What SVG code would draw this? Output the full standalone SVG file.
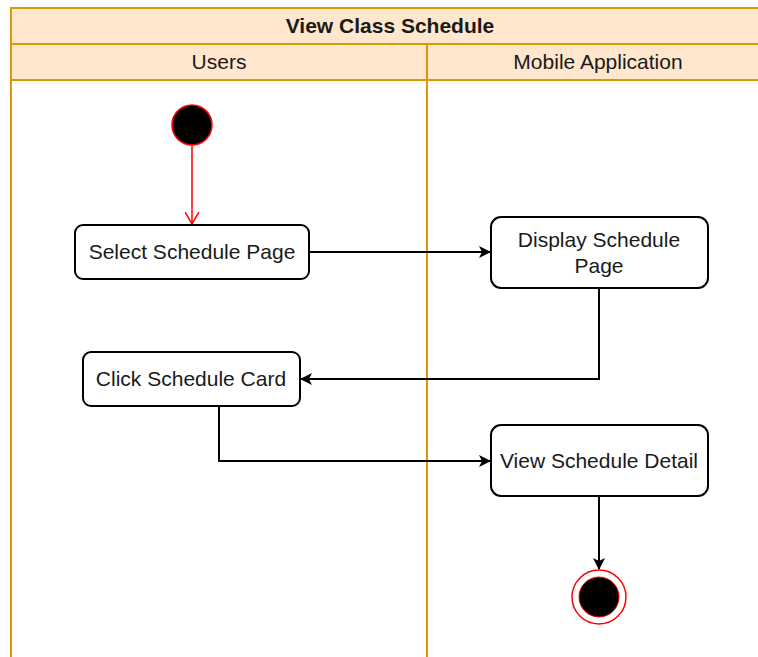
<svg xmlns="http://www.w3.org/2000/svg" width="758" height="657" viewBox="0 0 758 657">
  <style>
    .lane { fill: none; stroke: #d79b00; stroke-width: 2; }
    .head { fill: #ffe6cc; stroke: #d79b00; stroke-width: 2; }
    .act { fill: #ffffff; stroke: #000000; stroke-width: 2; }
    .txt { font-family: "Liberation Sans", Arial, sans-serif; font-size: 21px; fill: #1a1a1a; text-anchor: middle; }
    .title { font-weight: bold; }
    .flow { fill: none; stroke: #000000; stroke-width: 2; }
  </style>
  <defs>
    <marker id="arrow" markerWidth="12" markerHeight="12" refX="11" refY="6" orient="auto" markerUnits="userSpaceOnUse">
      <path d="M0,0 L12,6 L0,12 L3,6 Z" fill="#000000"/>
    </marker>
    <marker id="openRed" markerWidth="14" markerHeight="14" refX="12" refY="7" orient="auto" markerUnits="userSpaceOnUse">
      <path d="M0,0 L12,7 L0,14" fill="none" stroke="#ff0000" stroke-width="1.5"/>
    </marker>
  </defs>

  <rect width="758" height="657" fill="#ffffff"/>

  <!-- pool and lanes -->
  <g id="pool">
    <rect class="head" x="11" y="8" width="760" height="36"/>
    <text class="txt title" x="390" y="33">View Class Schedule</text>
  </g>
  <g id="lane-users">
    <rect class="head" x="11" y="44" width="416" height="36"/>
    <rect class="lane" x="11" y="80" width="416" height="590"/>
    <text class="txt" x="219" y="69">Users</text>
  </g>
  <g id="lane-app">
    <rect class="head" x="427" y="44" width="344" height="36"/>
    <rect class="lane" x="427" y="80" width="344" height="590"/>
    <text class="txt" x="598" y="69">Mobile Application</text>
  </g>

  <!-- connectors -->
  <g id="connectors">
    <line x1="192" y1="146" x2="192" y2="224" stroke="#ff0000" stroke-width="1.5" marker-end="url(#openRed)"/>
    <path class="flow" d="M309,252 L490,252" marker-end="url(#arrow)"/>
    <path class="flow" d="M599,288 L599,379 L301,379" marker-end="url(#arrow)"/>
    <path class="flow" d="M219,406 L219,461 L490,461" marker-end="url(#arrow)"/>
    <path class="flow" d="M599,496 L599,569" marker-end="url(#arrow)"/>
  </g>

  <!-- nodes -->
  <g id="start">
    <circle cx="192" cy="125" r="20" fill="#000000" stroke="#ff0000" stroke-width="1.5"/>
  </g>
  <g id="select-schedule-page">
    <rect class="act" x="75" y="225" width="234" height="54" rx="8"/>
    <text class="txt" x="192" y="259">Select Schedule Page</text>
  </g>
  <g id="display-schedule-page">
    <rect class="act" x="491" y="217" width="217" height="71" rx="10"/>
    <text class="txt" x="599" y="247">Display Schedule</text>
    <text class="txt" x="599" y="273">Page</text>
  </g>
  <g id="click-schedule-card">
    <rect class="act" x="83" y="352" width="217" height="54" rx="8"/>
    <text class="txt" x="191" y="386">Click Schedule Card</text>
  </g>
  <g id="view-schedule-detail">
    <rect class="act" x="491" y="425" width="217" height="71" rx="10"/>
    <text class="txt" x="599" y="468">View Schedule Detail</text>
  </g>
  <g id="end">
    <circle cx="599" cy="597" r="27" fill="#ffffff" stroke="#ff0000" stroke-width="1.5"/>
    <circle cx="599" cy="597" r="20" fill="#000000" stroke="#ff0000" stroke-width="1"/>
  </g>
</svg>
